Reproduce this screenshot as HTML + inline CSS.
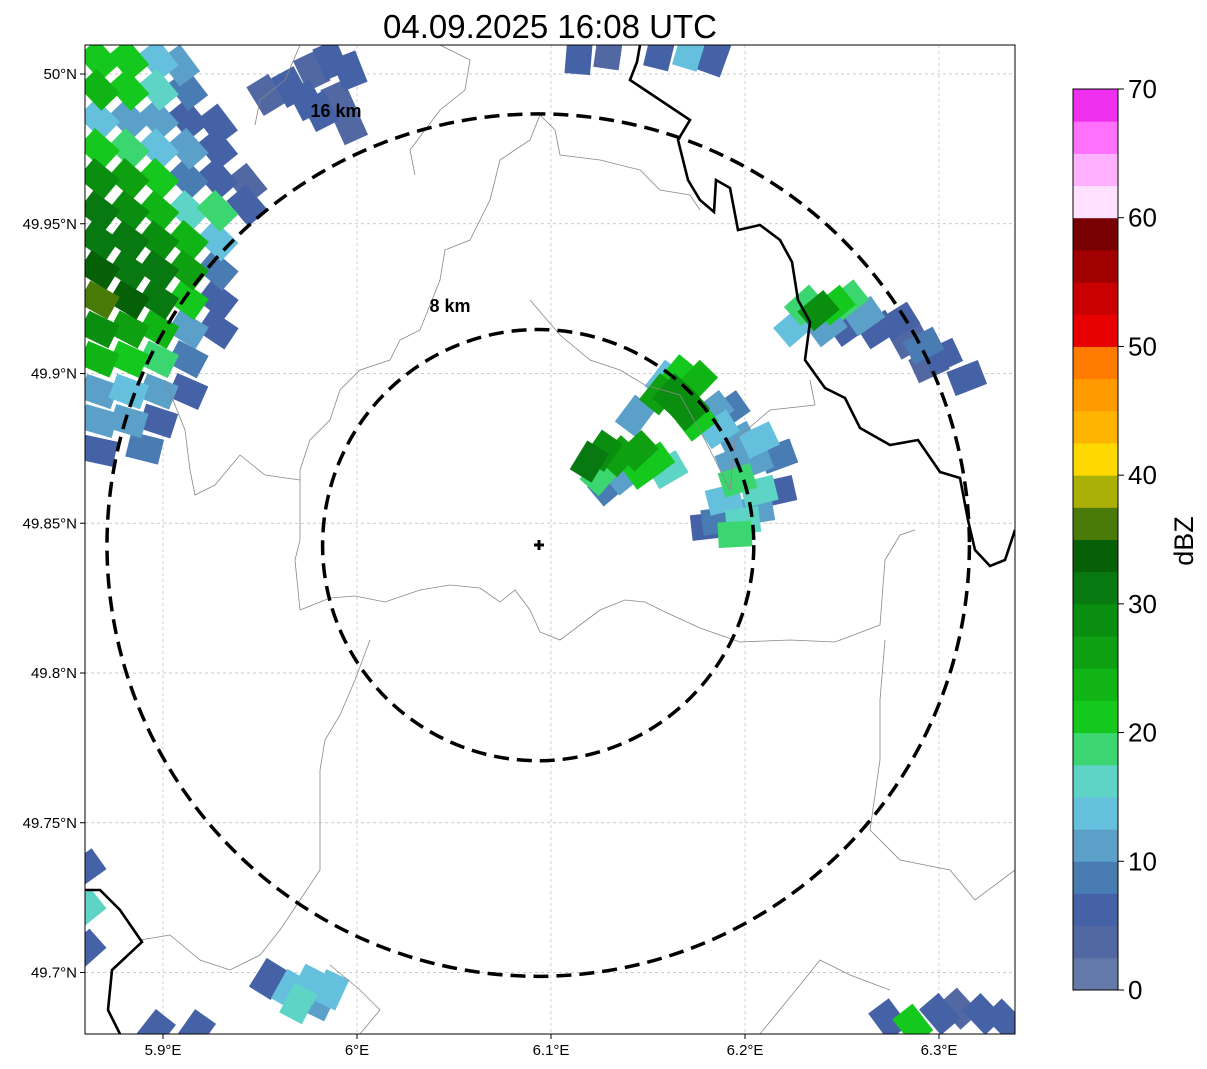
<!DOCTYPE html>
<html><head><meta charset="utf-8"><style>
html,body{margin:0;padding:0;background:#fff;}
svg{display:block;font-family:"Liberation Sans",sans-serif;}
</style></head><body>
<svg id="chart" width="1207" height="1069" viewBox="0 0 1207 1069" xmlns="http://www.w3.org/2000/svg">
<defs><clipPath id="plotclip"><rect x="85" y="45" width="930" height="989"/></clipPath></defs>
<text x="550" y="38" font-size="33" text-anchor="middle">04.09.2025 16:08 UTC</text>
<rect x="85" y="45" width="930" height="989" fill="#fff"/>
<g id="grid"></g>
<g id="echoes" clip-path="url(#plotclip)"></g>
<g clip-path="url(#plotclip)" fill="none">
<path stroke="#888" stroke-width="0.8" d="M300,610 L330,598 L355,596 L385,602 L420,590 L450,585 L480,588 L500,602 L515,590 L530,610 L540,632 L560,640 L580,625 L600,610 L625,600 L645,602 L665,612 L700,628 L740,642 L790,640 L835,642 L880,625 L885,560 L900,535 L915,530"/>
<path stroke="#888" stroke-width="0.8" d="M540,115 L530,140 L500,160 L490,200 L470,240 L445,250 L440,280 L420,330 L400,340 L390,360 L360,370 L340,390 L330,420 L310,440 L300,470 L300,500 L300,540 L295,560 L300,610"/>
<path stroke="#888" stroke-width="0.8" d="M540,115 L555,130 L560,155 L600,160 L640,170 L660,190 L690,195 L700,210"/>
<path stroke="#888" stroke-width="0.8" d="M300,45 L285,80 L260,100 L255,125 M440,45 L470,60 L465,90 L440,110 L425,130 L410,150 L415,175"/>
<path stroke="#888" stroke-width="0.8" d="M530,300 L560,335 L590,360 L620,370 L645,385 L680,395 L705,440 L720,470 L730,490 L735,440 L770,410 L815,405 L810,380"/>
<path stroke="#888" stroke-width="0.8" d="M165,380 L185,430 L190,470 L195,495 L215,485 L240,455 L265,475 L300,480"/>
<path stroke="#888" stroke-width="0.8" d="M370,640 L355,680 L340,715 L325,740 L320,770 L320,820 L320,870 L300,900 L280,930 L260,955 L230,970 L200,960 L170,935 L140,940"/>
<path stroke="#888" stroke-width="0.8" d="M885,640 L880,700 L880,760 L870,830 L900,860 L950,870 L975,900 L1015,870 M330,965 L360,990 L380,1010 L360,1034 M760,1034 L800,985 L820,960 L850,975 L890,990"/>
<path stroke="#000" stroke-width="2.6" d="M640,45 L637,62 L630,80 L645,90 L660,100 L690,120 L678,140 L688,180 L700,200 L714,212 L716,180 L730,188 L738,230 L760,225 L780,240 L792,262 L798,300 L810,322 L805,360 L825,388 L845,398 L860,428 L890,445 L918,440 L940,472 L960,478 L968,520 L975,550 L990,566 L1005,560 L1015,530"/>
<path stroke="#000" stroke-width="2.6" d="M85,890 L100,890 L120,910 L142,942 L112,970 L108,1010 L120,1034"/>
</g>
<g id="rings" clip-path="url(#plotclip)"></g>
<text x="336" y="117" font-size="18" font-weight="bold" text-anchor="middle">16 km</text>
<text x="450" y="312" font-size="18" font-weight="bold" text-anchor="middle">8 km</text>
<path d="M534,545 L544,545 M539,540 L539,550" stroke="#000" stroke-width="3"/>
<rect x="85" y="45" width="930" height="989" fill="none" stroke="#000" stroke-width="1"/>
<g id="axes"></g>
<g id="cbar"></g>
<text transform="translate(1193,541) rotate(-90)" font-size="27" text-anchor="middle">dBZ</text>
</svg>
<script>
// radar site, range rings, map extent
const siteLonLat = [6.0934, 49.8427];
const ringKm = [8, 16];
const lonTicks = [5.9, 6.0, 6.1, 6.2, 6.3];
const lonTickLabels = ["5.9°E", "6°E", "6.1°E", "6.2°E", "6.3°E"];
const latTicks = [50.0, 49.95, 49.9, 49.85, 49.8, 49.75, 49.7];
const latTickLabels = ["50°N", "49.95°N", "49.9°N", "49.85°N", "49.8°N", "49.75°N", "49.7°N"];
const cbarTicks = [0, 10, 20, 30, 40, 50, 60, 70];
const cbarColors = ["#6478aa","#5268a2","#4662a6","#4a7cb4","#5aa0c8","#64c0dc","#5ed4c6","#3cd670","#14c81e","#10b414","#0ea010","#0a8e10","#087810","#066008","#4a7a08","#aab008","#ffd800","#ffb400","#ff9a00","#ff7c00","#e80000","#c80000","#a00000","#780000","#ffe0ff","#ffb0ff","#ff70ff","#f030f0"];
// echo cells: [x km east of radar, y km north of radar, dBZ]
const echoCells = [
[-16.3,18.0,22],[-15.2,18.0,20],[-14.1,18.0,14],[-13.3,17.8,12],
[-16.3,16.9,24],[-15.2,16.9,20],[-14.1,16.9,15],[-13.0,16.9,8],
[-16.3,15.8,14],[-15.2,15.8,12],[-14.1,15.8,10],[-13.0,15.8,6],[-11.9,15.6,5],
[-16.3,14.7,20],[-15.2,14.7,18],[-14.1,14.7,14],[-13.0,14.7,10],[-11.9,14.7,6],
[-16.3,13.6,28],[-15.2,13.6,26],[-14.1,13.6,22],[-13.0,13.6,8],[-11.9,13.6,5],[-10.8,13.4,4],
[-16.3,12.4,30],[-15.2,12.4,28],[-14.1,12.4,24],[-13.0,12.4,16],[-11.9,12.4,18],[-10.8,12.6,5],
[-16.3,11.3,32],[-15.2,11.3,30],[-14.1,11.3,28],[-13.0,11.3,24],[-11.9,11.3,14],
[-16.3,10.2,34],[-15.2,10.2,32],[-14.1,10.2,30],[-13.0,10.2,26],[-11.9,10.2,8],
[-16.3,9.1,36],[-15.2,9.1,33],[-14.1,9.1,30],[-13.0,9.1,22],[-11.9,9.1,5],
[-16.3,8.0,28],[-15.2,8.0,26],[-14.1,8.0,24],[-13.0,8.0,12],[-11.9,8.0,6],
[-16.3,6.9,24],[-15.2,6.9,22],[-14.1,6.9,18],[-13.0,6.9,8],
[-16.3,5.7,12],[-15.2,5.7,14],[-14.1,5.7,10],[-13.0,5.7,5],
[-16.3,4.6,10],[-15.2,4.6,12],[-14.1,4.6,6],
[-16.3,3.5,5],[-14.6,3.6,8],
[-10.1,16.7,4],[-9.2,17.0,5],[-8.4,17.6,4],[-7.7,18.0,6],[-7.0,17.6,5],[-7.4,16.5,4],[-8.1,16.1,6],[-7.0,15.6,4],[-8.6,16.5,7],
[1.5,18.1,5],[2.6,18.3,4],[5.6,18.3,13],[6.5,18.1,5],[4.5,18.3,6],
[1.9,3.1,30],[2.4,3.5,28],[3.0,3.3,25],[3.7,3.5,25],[4.3,3.1,22],[4.8,2.8,15],[2.3,2.6,18],[3.2,2.6,10],[3.9,2.8,20],[3.6,4.8,10],[2.6,2.2,8],
[4.7,6.1,14],[5.2,6.3,22],[5.9,6.1,24],[4.5,5.6,25],[5.0,5.6,28],[5.6,5.0,28],[5.9,4.6,22],[6.5,5.0,12],[7.1,5.0,8],[6.7,4.3,14],[7.4,3.9,12],[8.2,3.9,14],[8.9,3.3,8],[8.0,3.1,10],[7.3,3.1,12],[7.4,2.4,18],[8.2,2.0,16],[8.9,2.0,6],[6.9,1.7,13],[6.7,0.9,8],[7.6,0.9,17],[7.3,0.4,18],[6.3,0.7,5],[8.1,1.3,12],
[9.9,8.9,18],[10.4,8.7,28],[11.0,8.9,22],[11.5,9.1,19],[12.1,8.5,12],[10.7,8.1,10],[11.5,8.1,6],[12.6,8.0,5],[13.4,8.3,5],[13.8,7.6,4],[14.3,7.4,8],[15.0,7.0,5],[14.5,6.7,4],[15.9,6.2,5],[9.5,8.1,14],
[-9.2,-16.5,13],[-8.5,-16.3,14],[-8.9,-17.0,16],[-8.1,-16.9,12],[-10.0,-16.1,5],[-7.7,-16.5,14],
[-14.2,-18.0,5],[-12.7,-18.0,5],
[13.0,-17.6,6],[13.9,-17.8,22],[14.9,-17.4,6],[15.6,-17.2,4],[16.5,-17.4,5],[17.3,-17.6,6],
[-16.8,-12.0,5],[-16.8,-13.5,15],[-16.8,-15.0,5]
];

const NS = "http://www.w3.org/2000/svg";
const X0 = 85, X1 = 1015, Y0 = 45, Y1 = 1034;
const lonX = lon => 163 + (lon - 5.9) * 1940;
const latY = lat => 74 + (50.0 - lat) * 2995;
const cx = lonX(siteLonLat[0]), cy = latY(siteLonLat[1]);
const pxPerKm = 26.95;
const kmX = k => cx + k * pxPerKm;
const kmY = k => cy - k * pxPerKm;
const dbzColor = v => cbarColors[Math.max(0, Math.min(cbarColors.length - 1, Math.floor(v / 2.5)))];
function mk(tag, attrs, parent) { const e = document.createElementNS(NS, tag); for (const k in attrs) e.setAttribute(k, attrs[k]); parent.appendChild(e); return e; }

const grid = document.getElementById('grid');
lonTicks.forEach(v => {
  const l = mk('line', {x1: lonX(v), x2: lonX(v), y1: Y0, y2: Y1, stroke: '#bbb', 'stroke-width': 0.7, 'stroke-dasharray': '3,3'}, grid);
  
  
});
latTicks.forEach(v => {
  const l = mk('line', {x1: X0, x2: X1, y1: latY(v), y2: latY(v), stroke: '#bbb', 'stroke-width': 0.7, 'stroke-dasharray': '3,3'}, grid);
  
  
});

const echoes = document.getElementById('echoes');
const sorted = echoCells.slice().sort((a, b) => a[2] - b[2]);
sorted.forEach(c => {
  const x = kmX(c[0]), y = kmY(c[1]);
  const ang = Math.atan2(y - cy, x - cx) * 180 / Math.PI;
  const w = 1.25 * pxPerKm, h = 0.95 * pxPerKm;
  const r = mk('rect', {x: x - w / 2, y: y - h / 2, width: w, height: h, fill: dbzColor(c[2]), transform: `rotate(${ang.toFixed(1)} ${x.toFixed(1)} ${y.toFixed(1)})`}, echoes);
  
  
});

const rings = document.getElementById('rings');
ringKm.forEach(k => {
  const c = mk('circle', {cx: cx, cy: cy, r: k * pxPerKm, fill: 'none', stroke: '#000', 'stroke-width': 3.5, 'stroke-dasharray': '15,8'}, rings);
  
  
});

const axes = document.getElementById('axes');
lonTicks.forEach((v, i) => {
  const t = mk('line', {x1: lonX(v), x2: lonX(v), y1: Y1, y2: Y1 + 5, stroke: '#000'}, axes);
  
  
  const tx = mk('text', {x: lonX(v), y: Y1 + 21, 'font-size': 15, 'text-anchor': 'middle'}, axes);
  tx.textContent = lonTickLabels[i];
  
  
});
latTicks.forEach((v, i) => {
  const t = mk('line', {x1: X0 - 5, x2: X0, y1: latY(v), y2: latY(v), stroke: '#000'}, axes);
  
  
  const tx = mk('text', {x: X0 - 8, y: latY(v) + 5, 'font-size': 15, 'text-anchor': 'end'}, axes);
  tx.textContent = latTickLabels[i];
  
  
});

const cbar = document.getElementById('cbar');
const CB_X = 1073, CB_W = 45, CB_T = 89, CB_B = 990;
const cbY = v => CB_B - (v / 70) * (CB_B - CB_T);
cbarColors.forEach((col, i) => {
  const r = mk('rect', {x: CB_X, y: cbY((i + 1) * 2.5), width: CB_W, height: cbY(i * 2.5) - cbY((i + 1) * 2.5) + 0.5, fill: col}, cbar);
  
  
});
const fr = mk('rect', {x: CB_X, y: CB_T, width: CB_W, height: CB_B - CB_T, fill: 'none', stroke: '#000'}, cbar);


cbarTicks.forEach(v => {
  const t = mk('line', {x1: CB_X + CB_W, x2: CB_X + CB_W + 6, y1: cbY(v), y2: cbY(v), stroke: '#000'}, cbar);
  
  
  const tx = mk('text', {x: CB_X + CB_W + 10, y: cbY(v) + 9, 'font-size': 26}, cbar);
  tx.textContent = v;
  
  
});
</script>
</body></html>
